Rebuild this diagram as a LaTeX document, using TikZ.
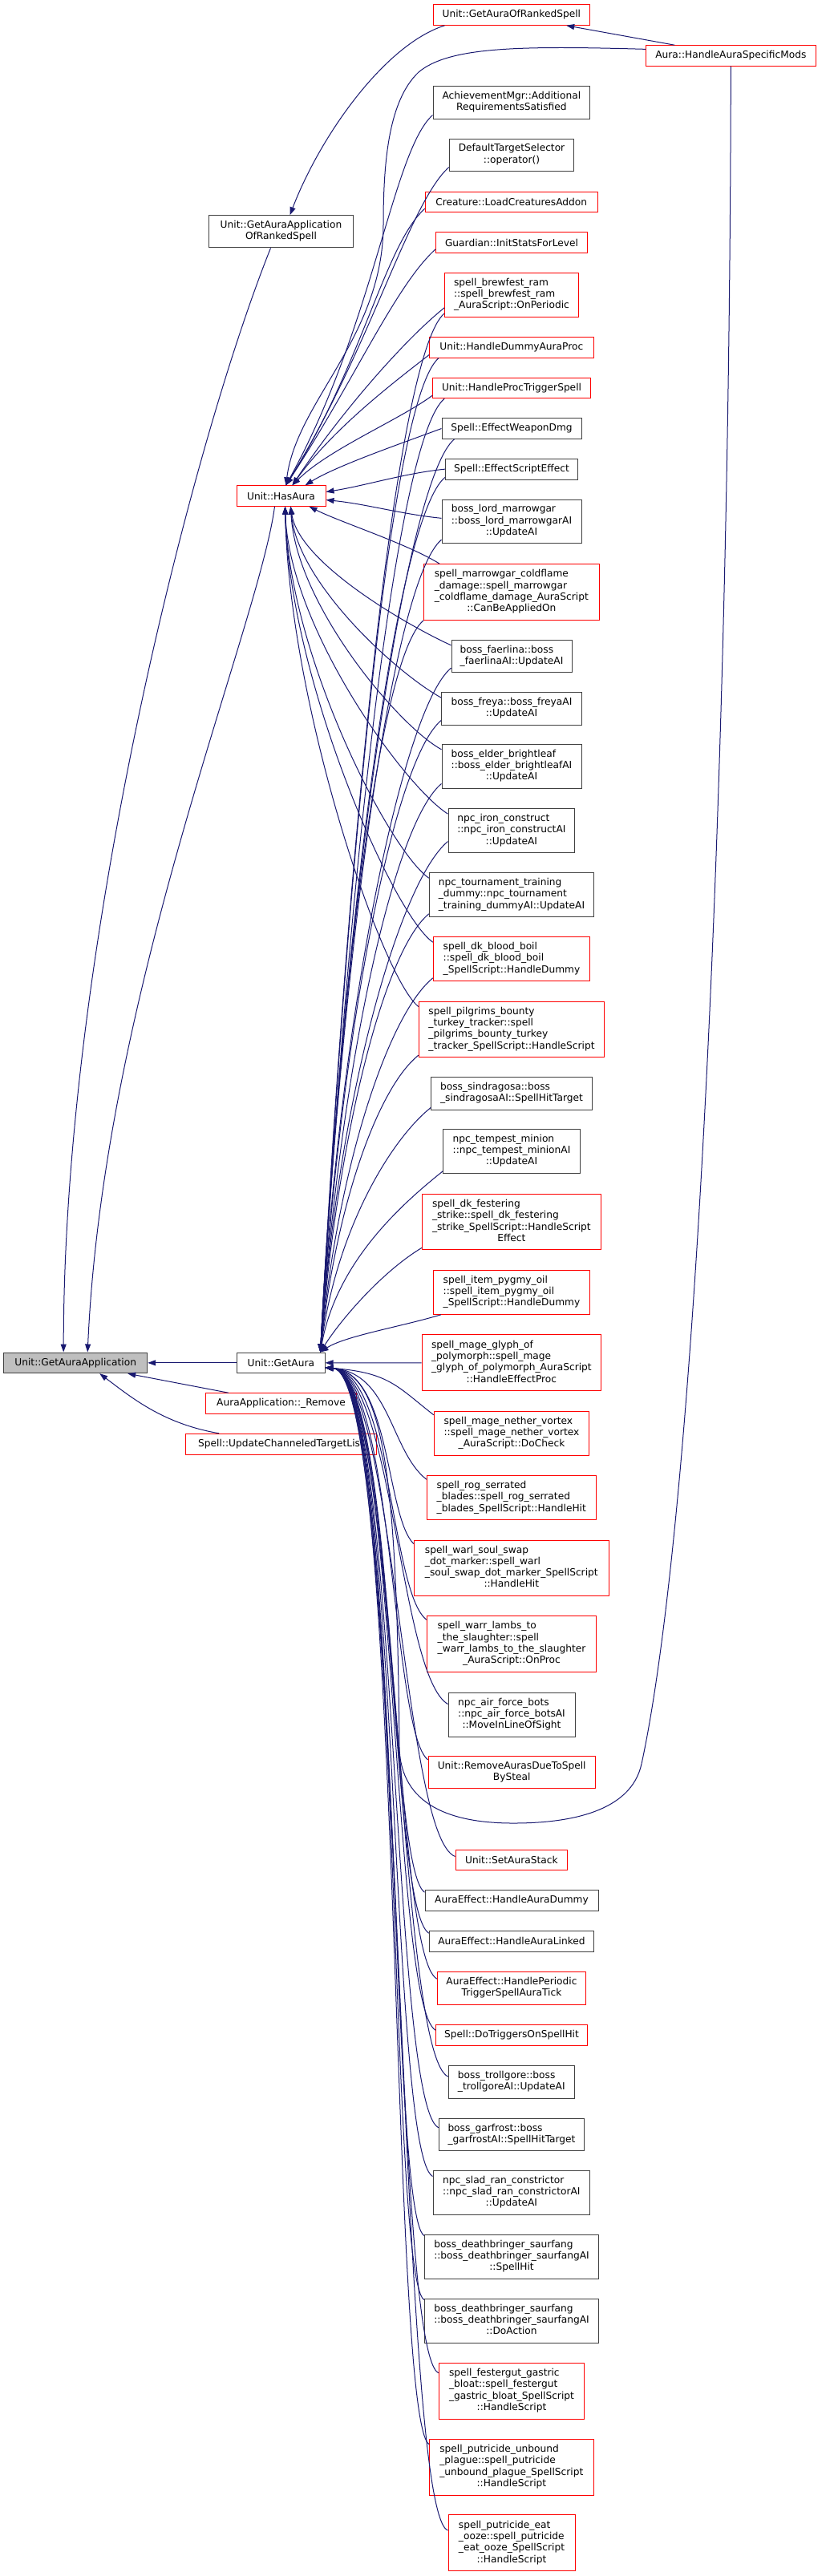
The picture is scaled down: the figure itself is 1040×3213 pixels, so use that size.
\documentclass[tikz,border=0pt]{standalone}
\usepackage{fontspec}
\setmainfont{DejaVu Sans}
\usepackage{tikz}
\usetikzlibrary{arrows.meta}

\begin{document}
\begin{tikzpicture}[x=1pt, y=-1pt, font=\fontsize{12.2}{14.3}\selectfont]

\definecolor{midnight}{RGB}{25,25,112}
\definecolor{nodered}{RGB}{255,0,0}
\definecolor{nodegray}{RGB}{64,64,64}
\definecolor{focalfill}{RGB}{191,191,191}

\tikzset{
  fnbox/.style={draw=nodegray, line width=1pt, fill=white, inner sep=0pt},
  blkbox/.style={fnbox},
  redbox/.style={fnbox, draw=nodered},
  focalbox/.style={fnbox, fill=focalfill},
  edge/.style={draw=midnight, line width=1pt, -{Triangle[length=10pt, width=7pt]}},
}

% name, style, x1, y1, x2, y2, text
\newcommand{\fnode}[7]{%
  \node[#2, minimum width={#5-#3}, minimum height={#6-#4}] (#1) at ({(#3+#5)/2}, {(#4+#6)/2}) {#7};
}
\newcommand{\fnlines}[1]{\begin{tabular}{@{}l@{}}#1\end{tabular}}
\newcommand{\lastln}[1]{\multicolumn{1}{@{}c@{}}{#1}}

\useasboundingbox (0,0) rectangle (1040,3213);

% left part
\fnode{focal}{focalbox}{4.7}{1687}{183.7}{1712.7}{Unit::GetAuraApplication}
\fnode{garos}{blkbox}{260.7}{268.8}{440.3}{308.9}{\fnlines{Unit::GetAuraApplication\\ \lastln{OfRankedSpell}}}
\fnode{has}{redbox}{295}{605.8}{406}{631.3}{Unit::HasAura}
\fnode{ga}{blkbox}{295.7}{1687}{405}{1712.7}{Unit::GetAura}
\fnode{remove}{redbox}{256.3}{1737.7}{444.7}{1763.3}{AuraApplication::\_Remove}
\fnode{updchan}{redbox}{231.7}{1788.3}{469.3}{1814}{Spell::UpdateChanneledTargetList}

% callers
\fnode{rank}{redbox}{540}{5.7}{735.7}{31.3}{Unit::GetAuraOfRankedSpell}
\fnode{mods}{redbox}{805.7}{56.7}{1017}{82}{Aura::HandleAuraSpecificMods}
\fnode{achv}{blkbox}{540}{107.7}{735.7}{148}{\fnlines{AchievementMgr::Additional\\ \lastln{RequirementsSatisfied}}}
\fnode{dts}{blkbox}{560.3}{173}{715.7}{213}{\fnlines{DefaultTargetSelector\\ \lastln{::operator()}}}
\fnode{lca}{redbox}{530.3}{239}{745.3}{264.7}{Creature::LoadCreaturesAddon}
\fnode{isfl}{redbox}{543.7}{289.7}{732.3}{315.3}{Guardian::InitStatsForLevel}
\fnode{brew}{redbox}{554.7}{340.3}{721.3}{395.3}{\fnlines{spell\_brewfest\_ram\\ ::spell\_brewfest\_ram\\ \lastln{\_AuraScript::OnPeriodic}}}
\fnode{hdap}{redbox}{535.7}{420.3}{740}{446}{Unit::HandleDummyAuraProc}
\fnode{hpts}{redbox}{539.7}{471}{736.3}{496.7}{Unit::HandleProcTriggerSpell}
\fnode{ewd}{blkbox}{551}{521.7}{725}{547.3}{Spell::EffectWeaponDmg}
\fnode{ese}{blkbox}{555.3}{572.3}{720.7}{598}{Spell::EffectScriptEffect}
\fnode{lmg}{blkbox}{551}{623}{725}{677.7}{\fnlines{boss\_lord\_marrowgar\\ ::boss\_lord\_marrowgarAI\\ \lastln{::UpdateAI}}}
\fnode{cold}{redbox}{528.7}{703.7}{747}{773.3}{\fnlines{spell\_marrowgar\_coldflame\\ \_damage::spell\_marrowgar\\ \_coldflame\_damage\_AuraScript\\ \lastln{::CanBeAppliedOn}}}
\fnode{faer}{blkbox}{563}{798.3}{713}{838.7}{\fnlines{boss\_faerlina::boss\\ \lastln{\_faerlinaAI::UpdateAI}}}
\fnode{freya}{blkbox}{550.7}{863.7}{725.3}{904}{\fnlines{boss\_freya::boss\_freyaAI\\ \lastln{::UpdateAI}}}
\fnode{bright}{blkbox}{551}{928.3}{725}{983}{\fnlines{boss\_elder\_brightleaf\\ ::boss\_elder\_brightleafAI\\ \lastln{::UpdateAI}}}
\fnode{iron}{blkbox}{559}{1008.7}{716.7}{1063}{\fnlines{npc\_iron\_construct\\ ::npc\_iron\_constructAI\\ \lastln{::UpdateAI}}}
\fnode{tour}{blkbox}{535.3}{1088.7}{740.7}{1143.3}{\fnlines{npc\_tournament\_training\\ \_dummy::npc\_tournament\\ \lastln{\_training\_dummyAI::UpdateAI}}}
\fnode{boil}{redbox}{540.3}{1168.7}{735.7}{1223.3}{\fnlines{spell\_dk\_blood\_boil\\ ::spell\_dk\_blood\_boil\\ \lastln{\_SpellScript::HandleDummy}}}
\fnode{pilg}{redbox}{522.3}{1249}{753.7}{1318.7}{\fnlines{spell\_pilgrims\_bounty\\ \_turkey\_tracker::spell\\ \_pilgrims\_bounty\_turkey\\ \lastln{\_tracker\_SpellScript::HandleScript}}}
\fnode{sind}{blkbox}{537.7}{1343.7}{738.3}{1384}{\fnlines{boss\_sindragosa::boss\\ \lastln{\_sindragosaAI::SpellHitTarget}}}
\fnode{temp}{blkbox}{552.7}{1408.3}{723.3}{1463.3}{\fnlines{npc\_tempest\_minion\\ ::npc\_tempest\_minionAI\\ \lastln{::UpdateAI}}}
\fnode{fest}{redbox}{526.7}{1489.3}{749}{1558.7}{\fnlines{spell\_dk\_festering\\ \_strike::spell\_dk\_festering\\ \_strike\_SpellScript::HandleScript\\ \lastln{Effect}}}
\fnode{pygmy}{redbox}{540.3}{1584.3}{735.7}{1639.3}{\fnlines{spell\_item\_pygmy\_oil\\ ::spell\_item\_pygmy\_oil\\ \lastln{\_SpellScript::HandleDummy}}}
\fnode{glyph}{redbox}{526}{1664.7}{749.7}{1734.7}{\fnlines{spell\_mage\_glyph\_of\\ \_polymorph::spell\_mage\\ \_glyph\_of\_polymorph\_AuraScript\\ \lastln{::HandleEffectProc}}}
\fnode{nether}{redbox}{541.3}{1760.3}{734.7}{1815}{\fnlines{spell\_mage\_nether\_vortex\\ ::spell\_mage\_nether\_vortex\\ \lastln{\_AuraScript::DoCheck}}}
\fnode{rog}{redbox}{532.3}{1840.7}{743.3}{1895.3}{\fnlines{spell\_rog\_serrated\\ \_blades::spell\_rog\_serrated\\ \lastln{\_blades\_SpellScript::HandleHit}}}
\fnode{warl}{redbox}{516.3}{1921}{759.3}{1990.3}{\fnlines{spell\_warl\_soul\_swap\\ \_dot\_marker::spell\_warl\\ \_soul\_swap\_dot\_marker\_SpellScript\\ \lastln{::HandleHit}}}
\fnode{warr}{redbox}{532.3}{2015.7}{743.7}{2085.3}{\fnlines{spell\_warr\_lambs\_to\\ \_the\_slaughter::spell\\ \_warr\_lambs\_to\_the\_slaughter\\ \lastln{\_AuraScript::OnProc}}}
\fnode{bots}{blkbox}{559}{2111}{717}{2166}{\fnlines{npc\_air\_force\_bots\\ ::npc\_air\_force\_botsAI\\ \lastln{::MoveInLineOfSight}}}
\fnode{steal}{redbox}{534}{2190.3}{742.3}{2230.3}{\fnlines{Unit::RemoveAurasDueToSpell\\ \lastln{BySteal}}}
\fnode{stack}{redbox}{568}{2307}{707.7}{2332.7}{Unit::SetAuraStack}
\fnode{hadum}{blkbox}{530}{2357.7}{746}{2383}{AuraEffect::HandleAuraDummy}
\fnode{halnk}{blkbox}{535.3}{2408.7}{740.7}{2434}{AuraEffect::HandleAuraLinked}
\fnode{hptsat}{redbox}{545.3}{2459.7}{730.7}{2500}{\fnlines{AuraEffect::HandlePeriodic\\ \lastln{TriggerSpellAuraTick}}}
\fnode{dtosh}{redbox}{543.7}{2525.7}{732.3}{2551}{Spell::DoTriggersOnSpellHit}
\fnode{troll}{blkbox}{559.3}{2576.7}{716.3}{2617}{\fnlines{boss\_trollgore::boss\\ \lastln{\_trollgoreAI::UpdateAI}}}
\fnode{garf}{blkbox}{547.3}{2642.3}{728.7}{2682.7}{\fnlines{boss\_garfrost::boss\\ \lastln{\_garfrostAI::SpellHitTarget}}}
\fnode{slad}{blkbox}{540}{2707}{735.7}{2762}{\fnlines{npc\_slad\_ran\_constrictor\\ ::npc\_slad\_ran\_constrictorAI\\ \lastln{::UpdateAI}}}
\fnode{sfhit}{blkbox}{529.3}{2787}{746.7}{2842}{\fnlines{boss\_deathbringer\_saurfang\\ ::boss\_deathbringer\_saurfangAI\\ \lastln{::SpellHit}}}
\fnode{sfact}{blkbox}{529.3}{2867}{746.7}{2922}{\fnlines{boss\_deathbringer\_saurfang\\ ::boss\_deathbringer\_saurfangAI\\ \lastln{::DoAction}}}
\fnode{gastric}{redbox}{547.3}{2947.3}{728.7}{3017}{\fnlines{spell\_festergut\_gastric\\ \_bloat::spell\_festergut\\ \_gastric\_bloat\_SpellScript\\ \lastln{::HandleScript}}}
\fnode{unbound}{redbox}{535.7}{3042.3}{740}{3112}{\fnlines{spell\_putricide\_unbound\\ \_plague::spell\_putricide\\ \_unbound\_plague\_SpellScript\\ \lastln{::HandleScript}}}
\fnode{ooze}{redbox}{559}{3136.7}{717}{3206.7}{\fnlines{spell\_putricide\_eat\\ \_ooze::spell\_putricide\\ \_eat\_ooze\_SpellScript\\ \lastln{::HandleScript}}}

% into the focal node
\draw[edge] (ga) -- (focal);
\draw[edge] ([xshift=29pt]remove.north west) -- ([xshift=-25pt]focal.south east);
\draw[edge] ([xshift=42pt]updchan.north west) .. controls +(-70,-12) and +(40,30) .. ([xshift=-60pt]focal.south east);
\draw[edge] ([xshift=-13pt]garos.south) .. controls +(-100,250) and +(0,-500) .. ([xshift=-15pt]focal.north);
\draw[edge] ([xshift=-8pt]has.south) .. controls +(-20,150) and +(20,-450) .. ([xshift=15pt]focal.north);

% top chain
\draw[edge] ([xshift=36pt]mods.north west) -- ([xshift=-30pt]rank.south east);
\draw[edge] ([xshift=15pt]rank.south west) .. controls +(-75,24) and +(38,-99) .. ([xshift=11pt]garos.north);
\draw[edge] ([yshift=8pt]mods.west) .. controls (650,57) and (560,58) .. (522,90)
  .. controls (485,125) and (478,200) .. (478,280)
  .. controls (478,420) and (370,500) .. ([xshift=6pt]has.north);
\draw[edge] (mods.south) .. controls (910,1000) and (865,1900) .. (800,2200)
  .. controls (787,2260) and (710,2274) .. (640,2274)
  .. controls (560,2274) and (500,2250) .. (498,2180)
  .. controls (495,1850) and (480,1712) .. ([yshift=-6pt]ga.east);

% callers of Unit::HasAura
\draw[edge] ([yshift=5pt]achv.south west) .. controls +(-50,45) and +(110,-200) .. ([xshift=6pt]has.north);
\draw[edge] ([yshift=5pt]dts.south west) .. controls +(-50,45) and +(105,-170) .. ([xshift=6pt]has.north);
\draw[edge] ([yshift=5pt]lca.south west) .. controls +(-50,45) and +(95,-150) .. ([xshift=6pt]has.north);
\draw[edge] ([yshift=5pt]isfl.south west) .. controls +(-50,45) and +(85,-130) .. ([xshift=6pt]has.north);
\draw[edge] ([yshift=12pt]brew.south west) .. controls +(-50,40) and +(60,-90) .. ([xshift=14pt]has.north);
\draw[edge] ([yshift=4pt]hdap.south west) .. controls +(-45,35) and +(50,-70) .. ([xshift=14pt]has.north);
\draw[edge] ([yshift=4pt]hpts.south west) .. controls +(-40,30) and +(45,-45) .. ([xshift=14pt]has.north);
\draw[edge] (ewd.west) .. controls +(-40,15) and +(40,-25) .. ([xshift=30pt]has.north);
\draw[edge] (ese.west) .. controls +(-50,5) and +(50,-8) .. ([yshift=5pt]has.east);
\draw[edge] ([yshift=4pt]lmg.west) .. controls +(-50,-5) and +(50,5) .. ([yshift=-5pt]has.east);
\draw[edge] ([xshift=20pt]cold.north west) .. controls +(-40,-25) and +(40,20) .. ([xshift=35pt]has.south);
\draw[edge] ([yshift=-7pt]faer.north west) .. controls +(-55,-25) and +(10,70) .. ([xshift=12pt]has.south);
\draw[edge] ([yshift=-7pt]freya.north west) .. controls +(-55,-30) and +(8,95) .. ([xshift=12pt]has.south);
\draw[edge] ([yshift=-7pt]bright.north west) .. controls +(-55,-30) and +(6,120) .. ([xshift=12pt]has.south);
\draw[edge] ([yshift=-7pt]iron.north west) .. controls +(-55,-35) and +(5,150) .. ([xshift=5pt]has.south);
\draw[edge] ([yshift=-7pt]tour.north west) .. controls +(-50,-35) and +(5,185) .. ([xshift=5pt]has.south);
\draw[edge] ([yshift=-7pt]boil.north west) .. controls +(-50,-35) and +(5,215) .. ([xshift=5pt]has.south);
\draw[edge] ([yshift=-7pt]pilg.north west) .. controls +(-45,-35) and +(5,250) .. ([xshift=5pt]has.south);

% callers of Unit::GetAura, above it
\draw[edge] ([yshift=5pt]brew.south west) .. controls +(-60,50) and +(35,-648) .. ([xshift=-6pt]ga.north east);
\draw[edge] ([xshift=12pt]hdap.south west) .. controls +(-60,50) and +(35,-620) .. ([xshift=-6pt]ga.north east);
\draw[edge] ([xshift=15pt]hpts.south west) .. controls +(-60,50) and +(35,-595) .. ([xshift=-6pt]ga.north east);
\draw[edge] ([xshift=16pt]ewd.south west) .. controls +(-60,50) and +(30,-570) .. ([xshift=-6pt]ga.north east);
\draw[edge] ([yshift=3pt]ese.south west) .. controls +(-60,50) and +(30,-546) .. ([xshift=-6pt]ga.north east);
\draw[edge] ([yshift=5pt]lmg.south west) .. controls +(-60,50) and +(28,-507) .. ([xshift=-6pt]ga.north east);
\draw[edge] (cold.south west) .. controls +(-55,45) and +(25,-457) .. ([xshift=-6pt]ga.north east);
\draw[edge] ([yshift=6pt]faer.south west) .. controls +(-60,50) and +(25,-427) .. ([xshift=-6pt]ga.north east);
\draw[edge] ([yshift=6pt]freya.south west) .. controls +(-60,50) and +(25,-394) .. ([xshift=-6pt]ga.north east);
\draw[edge] ([yshift=6pt]bright.south west) .. controls +(-60,50) and +(25,-355) .. ([xshift=-6pt]ga.north east);
\draw[edge] ([yshift=14pt]iron.south west) .. controls +(-60,50) and +(22,-319) .. ([xshift=-6pt]ga.north east);
\draw[edge] ([yshift=4pt]tour.south west) .. controls +(-55,45) and +(22,-274) .. ([xshift=-6pt]ga.north east);
\draw[edge] ([yshift=4pt]boil.south west) .. controls +(-55,45) and +(22,-234) .. ([xshift=-6pt]ga.north east);
\draw[edge] ([yshift=3pt]pilg.south west) .. controls +(-50,40) and +(20,-186) .. ([xshift=-6pt]ga.north east);
\draw[edge] ([yshift=3pt]sind.south west) .. controls +(-50,40) and +(20,-153) .. ([xshift=-6pt]ga.north east);
\draw[edge] ([yshift=3pt]temp.south west) .. controls +(-50,40) and +(20,-113) .. ([xshift=-6pt]ga.north east);
\draw[edge] ([yshift=3pt]fest.south west) .. controls +(-50,30) and +(25,-40) .. ([xshift=-6pt]ga.north east);
\draw[edge] ([xshift=10pt]pygmy.south west) .. controls +(-50,15) and +(30,-20) .. ([xshift=-6pt]ga.north east);
\draw[edge] (glyph) -- (ga);

% callers of Unit::GetAura, below it
\draw[edge] ([yshift=-5pt]nether.north west) .. controls +(-45,-35) and +(80,6) .. ([yshift=-6pt]ga.east);
\draw[edge] ([yshift=-5pt]rog.north west) .. controls +(-45,-35) and +(81,6) .. ([yshift=-6pt]ga.east);
\draw[edge] ([yshift=-5pt]warl.north west) .. controls +(-35,-35) and +(82,6) .. ([yshift=-6pt]ga.east);
\draw[edge] ([yshift=-5pt]warr.north west) .. controls +(-45,-35) and +(83,6) .. ([yshift=-6pt]ga.east);
\draw[edge] ([yshift=-15pt]bots.north west) .. controls +(-60,-35) and +(84,6) .. ([yshift=-6pt]ga.east);
\draw[edge] ([yshift=-5pt]steal.north west) .. controls +(-45,-35) and +(85,6) .. ([yshift=-6pt]ga.east);
\draw[edge] ([yshift=-9pt]stack.north west) .. controls +(-65,-25) and +(86,6) .. ([yshift=-6pt]ga.east);
\draw[edge] ([yshift=-3pt]hadum.north west) .. controls +(-45,-30) and +(87,6) .. ([yshift=-6pt]ga.east);
\draw[edge] ([yshift=-3pt]halnk.north west) .. controls +(-50,-30) and +(88,6) .. ([yshift=-6pt]ga.east);
\draw[edge] ([yshift=-9pt]hptsat.north west) .. controls +(-55,-30) and +(89,6) .. ([yshift=-6pt]ga.east);
\draw[edge] ([yshift=-7pt]dtosh.north west) .. controls +(-55,-30) and +(90,6) .. ([yshift=-6pt]ga.east);
\draw[edge] ([yshift=-14pt]troll.north west) .. controls +(-65,-30) and +(91,6) .. ([yshift=-6pt]ga.east);
\draw[edge] ([yshift=-12pt]garf.north west) .. controls +(-60,-30) and +(92,6) .. ([yshift=-6pt]ga.east);
\draw[edge] ([yshift=-8pt]slad.north west) .. controls +(-55,-30) and +(93,6) .. ([yshift=-6pt]ga.east);
\draw[edge] ([yshift=-2pt]sfhit.north west) .. controls +(-45,-30) and +(94,6) .. ([yshift=-6pt]ga.east);
\draw[edge] ([yshift=-2pt]sfact.north west) .. controls +(-45,-30) and +(95,6) .. ([yshift=-6pt]ga.east);
\draw[edge] ([yshift=-13pt]gastric.north west) .. controls +(-60,-30) and +(96,6) .. ([yshift=-6pt]ga.east);
\draw[edge] ([yshift=-7pt]unbound.north west) .. controls +(-50,-30) and +(97,6) .. ([yshift=-6pt]ga.east);
\draw[edge] ([yshift=-20pt]ooze.north west) .. controls +(-65,-25) and +(98,6) .. ([yshift=-6pt]ga.east);

\end{tikzpicture}
\end{document}
